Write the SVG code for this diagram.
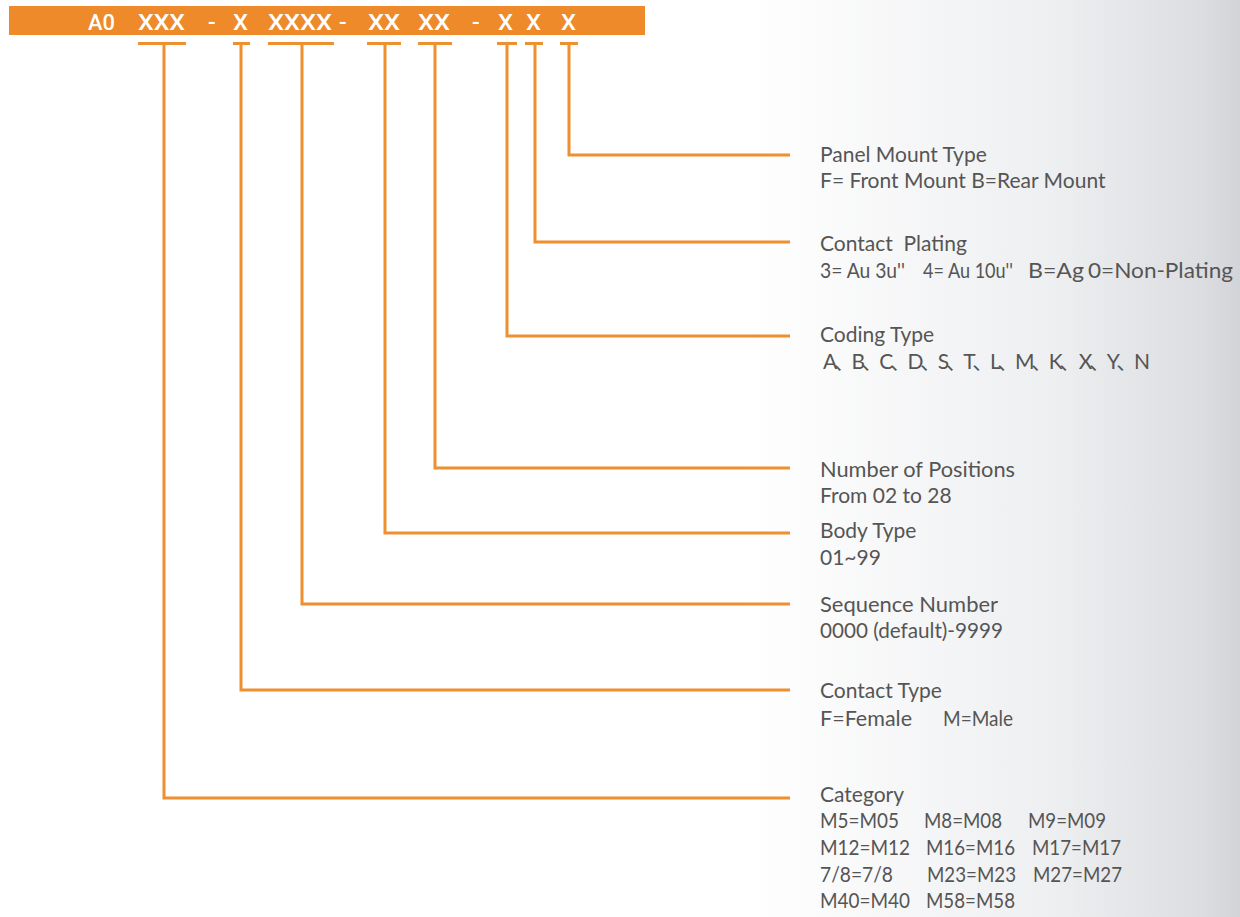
<svg xmlns="http://www.w3.org/2000/svg" width="1240" height="917" viewBox="0 0 1240 917">
<defs>
<linearGradient id="bg" x1="0" y1="0" x2="1" y2="0">
<stop offset="0" stop-color="#ffffff"/>
<stop offset="0.6" stop-color="#ffffff"/>
<stop offset="0.85" stop-color="#eeeff1"/>
<stop offset="0.97" stop-color="#dcdde0"/>
<stop offset="1" stop-color="#d3d4d7"/>
</linearGradient>
<style>
.bar{fill:#ee8a2a}
.code{fill:#ffffff;font-family:Roboto,"Liberation Sans",sans-serif;font-size:22.5px;font-weight:500}
.tick{fill:none;stroke:#ee902f;stroke-width:3}
.lead{fill:none;stroke:#ee902f;stroke-width:3}
.lbl{fill:#555555;font-family:Lato,"Noto Sans CJK SC",sans-serif;font-size:21px;white-space:pre}
</style>
</defs>
<rect x="0" y="0" width="1240" height="917" fill="url(#bg)"/>
<g id="code-bar">
<rect class="bar" x="9" y="6" width="636" height="29"/>
<text class="code" x="88" y="30" textLength="27" lengthAdjust="spacingAndGlyphs">A0</text>
<text class="code" x="138" y="30" textLength="47" lengthAdjust="spacingAndGlyphs">XXX</text>
<text class="code" x="208" y="30">-</text>
<text class="code" x="233" y="30" textLength="15" lengthAdjust="spacingAndGlyphs">X</text>
<text class="code" x="268" y="30" textLength="64" lengthAdjust="spacingAndGlyphs">XXXX</text>
<text class="code" x="339" y="30">-</text>
<text class="code" x="368" y="30" textLength="32" lengthAdjust="spacingAndGlyphs">XX</text>
<text class="code" x="418" y="30" textLength="32" lengthAdjust="spacingAndGlyphs">XX</text>
<text class="code" x="472" y="30">-</text>
<text class="code" x="498" y="30" textLength="15" lengthAdjust="spacingAndGlyphs">X</text>
<text class="code" x="526" y="30" textLength="15" lengthAdjust="spacingAndGlyphs">X</text>
<text class="code" x="561" y="30" textLength="15" lengthAdjust="spacingAndGlyphs">X</text>
</g>
<g id="connectors">
<path class="tick" d="M138 43.5H186M233 43.5H250M268 43.5H334M367 43.5H401M418 43.5H452M497 43.5H517M525 43.5H543M560 43.5H578"/>
<path class="lead" d="M569 43V155H790"/>
<path class="lead" d="M535 43V242H790"/>
<path class="lead" d="M507 43V336H790"/>
<path class="lead" d="M435 43V468H790"/>
<path class="lead" d="M385 43V533H790"/>
<path class="lead" d="M302 43V604H790"/>
<path class="lead" d="M241 43V690H790"/>
<path class="lead" d="M164 43V798H790"/>
</g>
<g id="panel-mount">
<text class="lbl"><tspan x="820" y="162">Panel Mount Type</tspan><tspan x="820" y="188">F= Front Mount B=Rear Mount</tspan></text>
</g>
<g id="contact-plating">
<text class="lbl"><tspan x="820" y="251">Contact  Plating</tspan><tspan x="820" y="278" textLength="85" lengthAdjust="spacingAndGlyphs">3= Au 3u''</tspan><tspan x="923" y="278" textLength="90" lengthAdjust="spacingAndGlyphs">4= Au 10u''</tspan><tspan x="1028" y="278" textLength="56" lengthAdjust="spacingAndGlyphs">B=Ag</tspan><tspan x="1088" y="278" textLength="145" lengthAdjust="spacingAndGlyphs">0=Non-Plating</tspan></text>
</g>
<g id="coding-type">
<text class="lbl"><tspan x="820" y="342">Coding Type</tspan><tspan x="823" y="369" textLength="327" lengthAdjust="spacing">A、B、C、D、S、T、L、M、K、 X、Y、N</tspan></text>
</g>
<g id="positions">
<text class="lbl"><tspan x="820" y="477" textLength="195" lengthAdjust="spacingAndGlyphs">Number of Positions</tspan><tspan x="820" y="503">From 02 to 28</tspan></text>
</g>
<g id="body-type">
<text class="lbl"><tspan x="820" y="538">Body Type</tspan><tspan x="820" y="565">01~99</tspan></text>
</g>
<g id="sequence">
<text class="lbl"><tspan x="820" y="612" textLength="178" lengthAdjust="spacingAndGlyphs">Sequence Number</tspan><tspan x="820" y="638" textLength="183" lengthAdjust="spacingAndGlyphs">0000 (default)-9999</tspan></text>
</g>
<g id="contact-type">
<text class="lbl"><tspan x="820" y="698">Contact Type</tspan><tspan x="820" y="726" textLength="92" lengthAdjust="spacingAndGlyphs">F=Female</tspan><tspan x="943" y="726" textLength="70" lengthAdjust="spacingAndGlyphs">M=Male</tspan></text>
</g>
<g id="category">
<text class="lbl"><tspan x="820" y="802">Category</tspan><tspan x="820" y="828" textLength="79" lengthAdjust="spacingAndGlyphs">M5=M05</tspan><tspan x="924" y="828" textLength="78" lengthAdjust="spacingAndGlyphs">M8=M08</tspan><tspan x="1028" y="828" textLength="78" lengthAdjust="spacingAndGlyphs">M9=M09</tspan><tspan x="820" y="855" textLength="90" lengthAdjust="spacingAndGlyphs">M12=M12</tspan><tspan x="926" y="855" textLength="89" lengthAdjust="spacingAndGlyphs">M16=M16</tspan><tspan x="1032" y="855" textLength="89" lengthAdjust="spacingAndGlyphs">M17=M17</tspan><tspan x="820" y="882" textLength="73" lengthAdjust="spacingAndGlyphs">7/8=7/8</tspan><tspan x="927" y="882" textLength="89" lengthAdjust="spacingAndGlyphs">M23=M23</tspan><tspan x="1033" y="882" textLength="89" lengthAdjust="spacingAndGlyphs">M27=M27</tspan><tspan x="820" y="908" textLength="90" lengthAdjust="spacingAndGlyphs">M40=M40</tspan><tspan x="926" y="908" textLength="89" lengthAdjust="spacingAndGlyphs">M58=M58</tspan></text>
</g>
</svg>
